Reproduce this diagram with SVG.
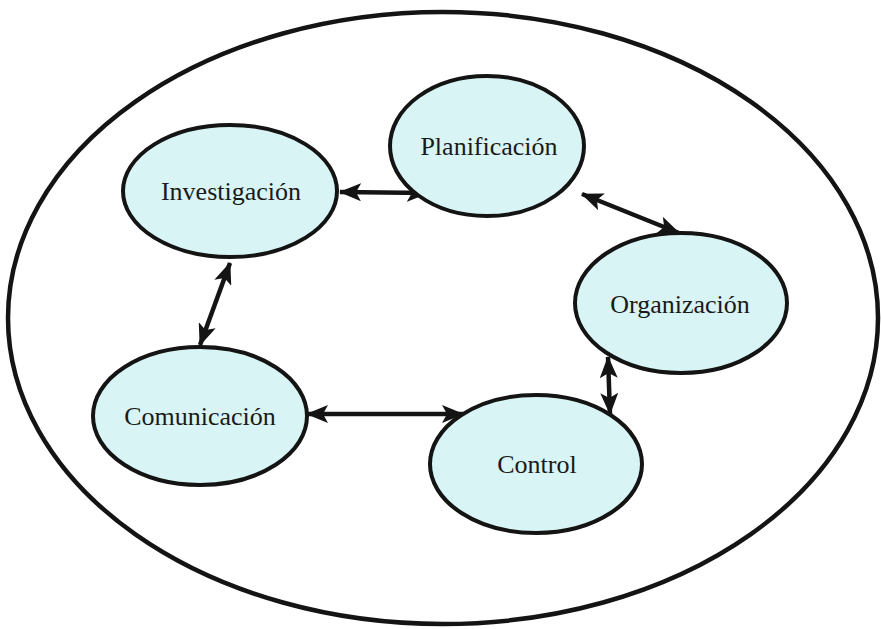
<svg xmlns="http://www.w3.org/2000/svg" width="881" height="629" viewBox="0 0 881 629">
<style>
.node ellipse{fill:#d8f4f4;stroke:#141414;stroke-width:4}
.node text{font-family:"Liberation Serif","Times New Roman",serif;font-size:26px;fill:#1a1a1a;text-anchor:middle}
.conn line{stroke:#141414;stroke-width:4.5;marker-start:url(#ah);marker-end:url(#ah)}
</style>
<defs>
<marker id="ah" markerUnits="userSpaceOnUse" viewBox="0 0 22 18" refX="21" refY="9" markerWidth="22" markerHeight="18" orient="auto-start-reverse">
<path d="M0,0 L22,9 L0,18 L5,9 Z" fill="#141414"/>
</marker>
</defs>
<rect width="881" height="629" fill="#ffffff"/>
<ellipse id="outer" cx="443" cy="318" rx="435" ry="306" fill="none" stroke="#141414" stroke-width="4.5"/>
<g class="conn">
<line x1="340" y1="192" x2="428" y2="193"/>
<line x1="582" y1="194" x2="679" y2="233"/>
<line x1="230" y1="263" x2="200" y2="345"/>
<line x1="307" y1="414" x2="463" y2="414"/>
<line x1="608" y1="357" x2="610" y2="414"/>
</g>
<g id="planificacion" class="node"><ellipse cx="487" cy="146" rx="97" ry="70"/><text x="489" y="155">Planificación</text></g>
<g id="investigacion" class="node"><ellipse cx="230" cy="191" rx="107" ry="66"/><text x="231" y="200">Investigación</text></g>
<g id="organizacion" class="node"><ellipse cx="681" cy="303" rx="106" ry="70"/><text x="680" y="313">Organización</text></g>
<g id="comunicacion" class="node"><ellipse cx="200" cy="416" rx="107" ry="69"/><text x="200" y="425">Comunicación</text></g>
<g id="control" class="node"><ellipse cx="536" cy="464" rx="106" ry="69"/><text x="537" y="473">Control</text></g>
</svg>
